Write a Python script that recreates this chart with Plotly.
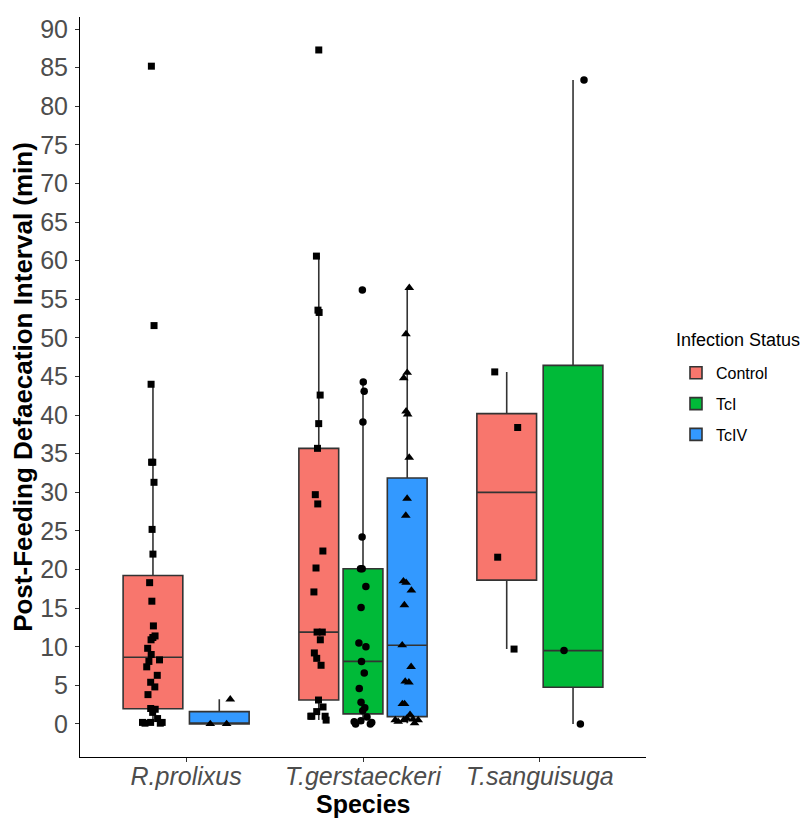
import numpy as np
import plotly.graph_objects as go

species = ["R.prolixus", "T.gerstaeckeri", "T.sanguisuga"]
statuses = ["Control", "TcI", "TcIV"]
y_ticks = list(range(0, 95, 5))

# Post-feeding defaecation interval (min)
rp_control = [85.2, 51.6, 44.0, 33.9, 33.9, 31.3, 25.2, 22.0, 18.3, 15.9, 12.7, 11.4,
              11.2, 10.9, 9.8, 9.0, 8.3, 8.1, 7.4, 6.3, 5.4, 4.8, 3.8, 2.0, 1.9, 1.5,
              0.7, 0.2, 0.2, 0.2, 0.1, 0.1]
rp_tciv = [3.2, 0.0, 0.0]
tg_control = [87.3, 60.6, 53.6, 53.3, 42.6, 38.9, 35.7, 29.7, 28.5, 22.4, 20.2, 17.1,
              11.9, 11.9, 10.9, 9.2, 8.5, 7.6, 3.1, 2.2, 1.6, 1.0, 1.0, 1.0, 0.5]
tg_tci = [56.2, 44.3, 43.1, 39.1, 24.2, 20.1, 20.1, 17.8, 15.1, 10.5, 10.0, 8.1,
          6.6, 4.6, 2.8, 2.1, 1.7, 0.9, 0.4, 0.3, 0.2, 0.0, 0.0]
tg_tciv = [56.5, 50.5, 45.5, 44.8, 40.5, 40.1, 34.5, 29.2, 27.0, 18.5, 18.3, 17.3,
           15.4, 10.2, 7.4, 5.5, 5.4, 2.6, 2.6, 1.2, 0.7, 0.6, 0.5, 0.5, 0.5, 0.3, 0.1]
ts_control = [45.6, 38.4, 21.6, 9.7]
ts_tci = [83.4, 9.5, 0.0]

groups = {
    "R.prolixus": {"Control": rp_control, "TcIV": rp_tciv},
    "T.gerstaeckeri": {"Control": tg_control, "TcI": tg_tci, "TcIV": tg_tciv},
    "T.sanguisuga": {"Control": ts_control, "TcI": ts_tci},
}

colors = {"Control": "#F8766D", "TcI": "#00BA38", "TcIV": "#3399FF"}
symbols = {"Control": "square", "TcI": "circle", "TcIV": "triangle-up"}
msize = {"Control": 7, "TcI": 7.5, "TcIV": 8.5}

FONT = "Liberation Sans, Arial, sans-serif"
DODGE = 0.75


def tukey_stats(values):
    v = np.asarray(values, dtype=float)
    q1, med, q3 = np.percentile(v, [25, 50, 75])  # R type 7
    iqr = q3 - q1
    lo = v[v >= q1 - 1.5 * iqr].min()
    hi = v[v <= q3 + 1.5 * iqr].max()
    return q1, med, q3, lo, hi


fig = go.Figure()
point_traces = []
for status in statuses:
    first = True
    for si, sp in enumerate(species):
        present = [s for s in statuses if s in groups[sp]]
        if status not in present:
            continue
        n = len(present)
        k = present.index(status)
        slot = DODGE / n
        center = (si + 1) + (k - (n - 1) / 2) * slot
        width = slot * 0.9
        q1, med, q3, lo, hi = tukey_stats(groups[sp][status])
        fig.add_trace(go.Box(
            x=[center], q1=[q1], median=[med], q3=[q3],
            lowerfence=[lo], upperfence=[hi], width=width,
            name=status, legendgroup=status, showlegend=first,
            fillcolor=colors[status],
            line=dict(color="#333333", width=1.6),
            whiskerwidth=0, boxpoints=False,
        ))
        first = False
        point_traces.append(go.Box(
            y=groups[sp][status], x0=center, width=width,
            name=status, legendgroup=status, showlegend=False,
            fillcolor="rgba(0,0,0,0)", line=dict(color="rgba(0,0,0,0)", width=0),
            whiskerwidth=0, boxpoints="all", pointpos=0, jitter=min(1, 0.16 / width),
            marker=dict(color="black", symbol=symbols[status], size=msize[status],
                        line=dict(width=0)),
        ))
for tr in point_traces:
    fig.add_trace(tr)

tickfont = dict(family=FONT, size=25, color="#4D4D4D")
titlefont = dict(family=FONT, size=26, color="black")

fig.update_layout(
    width=800, height=811,
    margin=dict(l=72, r=162, t=9, b=62, autoexpand=False),
    plot_bgcolor="white", paper_bgcolor="white",
    boxmode="overlay",
    legend=dict(
        font=dict(family=FONT, size=16, color="black"),
        x=1.053, xanchor="left", y=0.542, yanchor="top",
        bgcolor="rgba(0,0,0,0)", tracegroupgap=7,
    ),
    annotations=[
        dict(text="Infection Status", xref="paper", yref="paper",
             x=1.049, xanchor="left", y=0.563, yanchor="middle", showarrow=False,
             font=dict(family=FONT, size=18, color="black")),
        dict(text="<b>Species</b>", xref="paper", yref="paper",
             x=0.5, xanchor="center", y=-0.063, yanchor="middle", showarrow=False,
             borderpad=0, font=dict(family=FONT, size=25, color="black")),
    ],
    xaxis=dict(
        range=[0.4, 3.6], tickmode="array", tickvals=[1, 2, 3],
        ticktext=["<i>%s</i>" % s for s in species], automargin=False,
        showgrid=False, zeroline=False, showline=True, linecolor="black", linewidth=1,
        ticks="outside", ticklen=4, tickcolor="#333333", tickfont=tickfont,
        ticklabelstandoff=-7,
    ),
    yaxis=dict(
        range=[-4.28, 91.57], tickmode="array", tickvals=y_ticks, automargin=False,
        showgrid=False, zeroline=False, showline=True, linecolor="black", linewidth=1,
        ticks="outside", ticklen=4, tickcolor="#333333", tickfont=tickfont,
        ticklabelstandoff=2,
        title=dict(text="<b>Post-Feeding Defaecation Interval (min)</b>", font=titlefont, standoff=0),
    ),
)

fig.write_html("out.html")
